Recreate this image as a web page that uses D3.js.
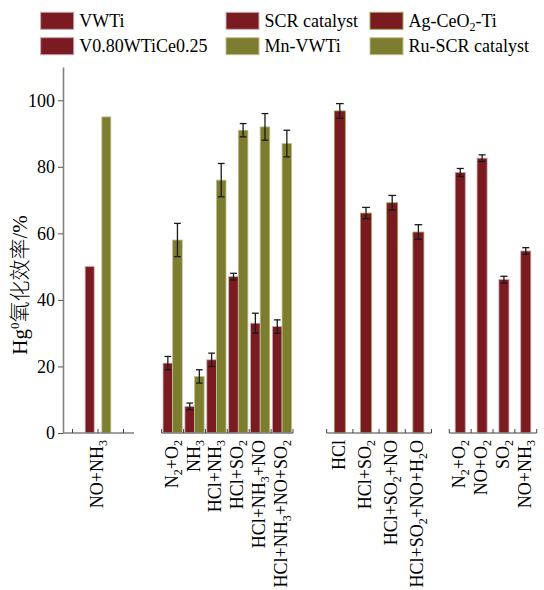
<!DOCTYPE html>
<html><head><meta charset="utf-8">
<script src="https://cdn.jsdelivr.net/npm/d3@7"></script>
<style>body{margin:0;background:#fff} svg{display:block} text{font-family:'Liberation Serif','Times New Roman',serif}</style>
</head><body><svg id="c" width="544" height="590"></svg>
<script>
// ---------- data ----------
const legendNames = ["VWTi", "V0.80WTiCe0.25", "SCR catalyst", "Mn-VWTi", "Ag-CeO2-Ti", "Ru-SCR catalyst"];
const seg1Cats = ["NO+NH3"];
const vwti = [50];
const mnVwti = [95];
const seg2Cats = ["N2+O2", "NH3", "HCl+NH3", "HCl+SO2", "HCl+NH3+NO", "HCl+NH3+NO+SO2"];
const scr = [21, 8, 22, 47, 33, 32];
const scrErr = [2, 1, 2, 1, 3, 2];
const ruScr = [58, 17, 76, 91, 92, 87];
const ruScrErr = [5, 2, 5, 2, 4, 4];
const seg3Cats = ["HCl", "HCl+SO2", "HCl+SO2+NO", "HCl+SO2+NO+H2O"];
const agCe = [96.8, 66.1, 69.2, 60.4];
const agCeErr = [2.2, 1.7, 2.2, 2.2];
const seg4Cats = ["N2+O2", "NO+O2", "SO2", "NO+NH3"];
const v080 = [78.3, 82.6, 46.1, 54.7];
const v080Err = [1.2, 1, 1, 1];
const yTicks = [0, 20, 40, 60, 80, 100];

// ---------- style ----------
const RED = "#7a1a21", OLIVE = "#7d7d2f", AXIS = "#808080";
const FONT = "'Liberation Serif','Times New Roman',serif";
const seriesStyle = {
  "VWTi": {fill: RED, stroke: "#c9a0a4"},
  "V0.80WTiCe0.25": {fill: RED, stroke: "#c8a0a8"},
  "SCR catalyst": {fill: RED, stroke: "#c9b0b2"},
  "Mn-VWTi": {fill: OLIVE, stroke: "#c0c090"},
  "Ag-CeO2-Ti": {fill: RED, stroke: "#a4a45a"},
  "Ru-SCR catalyst": {fill: OLIVE, stroke: "#c0c090"}
};

const svg = d3.select("#c");
const y = d3.scaleLinear().domain([0, 110]).range([433, 67]);
const yAxisX = 63;

// text with chemical subscripts: digits directly after an uppercase letter (not V)
function richText(sel, str, subSize, shift) {
  const parts = [];
  const re = /([A-UW-Z])(\d+)/g;
  let last = 0, m;
  while ((m = re.exec(str)) !== null) {
    const i = m.index + 1;
    parts.push({t: str.slice(last, i), sub: false});
    parts.push({t: m[2], sub: true});
    last = i + m[2].length;
  }
  parts.push({t: str.slice(last), sub: false});
  let shifted = false;
  parts.forEach(p => {
    if (!p.t) return;
    const ts = sel.append("tspan").text(p.t);
    if (p.sub) {
      ts.style("font-size", subSize + "px");
      if (!shifted) { ts.attr("dy", shift); shifted = true; }
    } else if (shifted) { ts.attr("dy", -shift); shifted = false; }
  });
}

// ---------- y axis ----------
const yAx = svg.append("g").attr("transform", `translate(${yAxisX},0)`)
  .call(d3.axisLeft(y).tickValues(yTicks).tickSize(5).tickPadding(3).tickSizeOuter(0));
yAx.select(".domain").attr("stroke", AXIS).attr("stroke-width", 1.6);
yAx.selectAll(".tick line").attr("stroke", "#555").attr("stroke-width", 1);
yAx.selectAll(".tick text").style("font-family", FONT).style("font-size", "18px").attr("fill", "#000");

// y label
const yl = svg.append("text").attr("transform", "translate(27,285) rotate(-90)")
  .attr("text-anchor", "middle").style("font-family", FONT).style("font-size", "21px");
yl.append("tspan").text("Hg");
yl.append("tspan").text("0").style("font-size", "13px").attr("dy", -8);
yl.append("tspan").text("氧化效率").attr("dy", 8).style("font-family", "'Noto Sans CJK SC'").style("font-size", "21px").style("font-weight", 300);
yl.append("tspan").text("/%");

// ---------- segments ----------
const segments = [
  {cats: seg1Cats, range: [72.5, 123.5], axis: [yAxisX, 134], edgeTicks: "center",
   series: [{name: "VWTi", v: vwti, e: null}, {name: "Mn-VWTi", v: mnVwti, e: null}],
   pin: 0.46, pout: 0.76},
  {cats: seg2Cats, range: [161.7, 293], axis: [161.7, 293], edgeTicks: "bounds",
   series: [{name: "SCR catalyst", v: scr, e: scrErr}, {name: "Ru-SCR catalyst", v: ruScr, e: ruScrErr}],
   pin: 0, pout: 0.14},
  {cats: seg3Cats, range: [326.7, 431.5], axis: [326.7, 431.5], edgeTicks: "bounds",
   series: [{name: "Ag-CeO2-Ti", v: agCe, e: agCeErr}], pin: 0, pout: 0.69},
  {cats: seg4Cats, range: [449.3, 536.7], axis: [449.3, 536.7], edgeTicks: "bounds",
   series: [{name: "V0.80WTiCe0.25", v: v080, e: v080Err}], pin: 0, pout: 0.59}
];

segments.forEach(seg => {
  const x = d3.scaleBand().domain(seg.cats).range(seg.range).paddingInner(0).paddingOuter(0);
  const xs = d3.scaleBand().domain(seg.series.map(s => s.name)).range([0, x.bandwidth()])
    .paddingInner(seg.pin).paddingOuter(seg.pout);
  const g = svg.append("g");

  // bars
  seg.series.forEach(s => {
    const st = seriesStyle[s.name];
    g.selectAll(null).data(seg.cats).join("rect")
      .attr("x", d => x(d) + xs(s.name))
      .attr("y", (d, i) => y(s.v[i]))
      .attr("width", xs.bandwidth())
      .attr("height", (d, i) => y(0) - y(s.v[i]))
      .attr("fill", st.fill).attr("stroke", st.stroke).attr("stroke-width", 0.8);
  });
  // error bars
  seg.series.forEach(s => {
    if (!s.e) return;
    const cap = xs.bandwidth() * 0.7;
    seg.cats.forEach((d, i) => {
      const cx = x(d) + xs(s.name) + xs.bandwidth() / 2;
      const eg = g.append("g").attr("stroke", "#1a1a1a").attr("stroke-width", 1.3);
      eg.append("line").attr("x1", cx).attr("x2", cx).attr("y1", y(s.v[i] + s.e[i])).attr("y2", y(s.v[i] - s.e[i]));
      eg.append("line").attr("x1", cx - cap / 2).attr("x2", cx + cap / 2).attr("y1", y(s.v[i] + s.e[i])).attr("y2", y(s.v[i] + s.e[i]));
      eg.append("line").attr("x1", cx - cap / 2).attr("x2", cx + cap / 2).attr("y1", y(s.v[i] - s.e[i])).attr("y2", y(s.v[i] - s.e[i]));
    });
  });

  // axis line
  g.append("line").attr("x1", seg.axis[0]).attr("x2", seg.axis[1]).attr("y1", y(0)).attr("y2", y(0))
    .attr("stroke", AXIS).attr("stroke-width", 1.6);
  // ticks
  let tickPos;
  if (seg.edgeTicks === "center") {
    tickPos = [seg.range[0], x(seg.cats[0]) + x.bandwidth() / 2, seg.range[1]];
  } else {
    tickPos = seg.cats.map(d => x(d)).concat([seg.range[1]]);
  }
  g.selectAll(null).data(tickPos).join("line")
    .attr("x1", d => d).attr("x2", d => d).attr("y1", y(0)).attr("y2", y(0) - 4)
    .attr("stroke", "#444").attr("stroke-width", 1);

  // labels
  seg.cats.forEach(d => {
    const t = g.append("text")
      .attr("transform", `translate(${x(d) + x.bandwidth() / 2 + 5},440) rotate(-90)`)
      .attr("text-anchor", "end").style("font-family", FONT).style("font-size", "18px").attr("fill", "#000");
    richText(t, d, 12, 4);
  });
});

// ---------- legend ----------
const legCols = [40.7, 226, 370], legRows = [12.3, 37.7];
legendNames.forEach((n, i) => {
  const cx = legCols[Math.floor(i / 2)], cy = legRows[i % 2];
  const st = seriesStyle[n];
  svg.append("rect").attr("x", cx).attr("y", cy).attr("width", 33).attr("height", 17)
    .attr("fill", st.fill).attr("stroke", st.stroke).attr("stroke-width", 1);
  const t = svg.append("text").attr("x", cx + 38.5).attr("y", cy + 14.5)
    .style("font-family", FONT).style("font-size", "18px").attr("fill", "#000");
  if (n.indexOf(".") >= 0) t.text(n); else richText(t, n, 12, 4);
});
</script>
</body></html>
